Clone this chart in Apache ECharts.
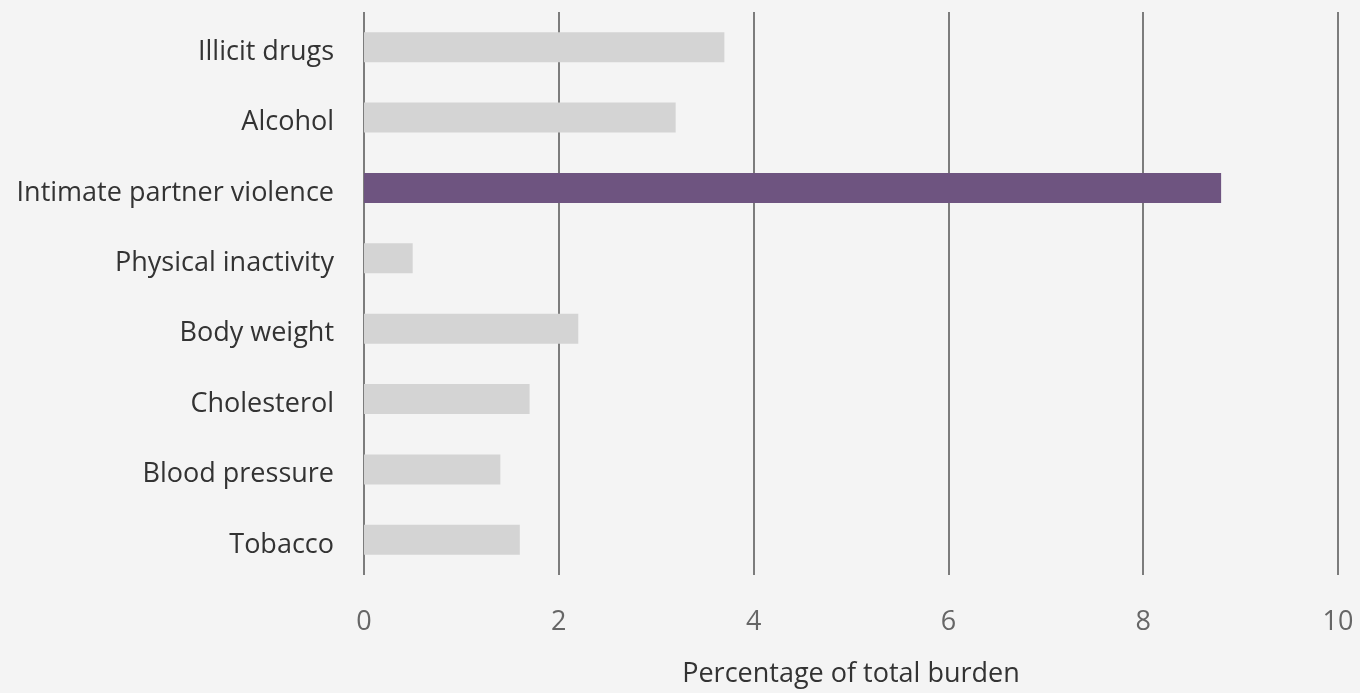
<!DOCTYPE html>
<html>
<head>
<meta charset="utf-8">
<script src="https://cdn.jsdelivr.net/npm/echarts@6/dist/echarts.min.js"></script>
<style>
  html, body { margin: 0; padding: 0; background: #f4f4f4; }
  #chart { width: 1360px; height: 693px; }
</style>
</head>
<body>
<div id="chart"></div>
<script>
// risk factors, top to bottom as in the picture
var categories = ['Illicit drugs', 'Alcohol', 'Intimate partner violence', 'Physical inactivity',
    'Body weight', 'Cholesterol', 'Blood pressure', 'Tobacco'];
var burden = [3.7, 3.2, 8.8, 0.5, 2.2, 1.7, 1.4, 1.6];
var highlight = 'Intimate partner violence';
var xTicks = [0, 2, 4, 6, 8, 10];

var chartDom = document.getElementById('chart');
var myChart = echarts.init(chartDom);
var option;

option = {
    backgroundColor: '#f4f4f4',
    animation: false,
    textStyle: { fontFamily: 'Open Sans' },
    grid: { left: 364, right: 22, top: 12, bottom: 116 },
    xAxis: {
        type: 'value',
        min: xTicks[0],
        max: xTicks[xTicks.length - 1],
        interval: 2,
        name: 'Percentage of total burden',
        nameLocation: 'middle',
        nameGap: 86,
        nameTextStyle: { fontSize: 27, color: '#333' },
        axisLine: { show: false },
        axisTick: { show: false },
        axisLabel: { fontSize: 27, color: '#666', margin: 34 },
        splitLine: { lineStyle: { color: '#555', width: 1.5 } }
    },
    yAxis: {
        type: 'category',
        inverse: true,
        data: categories,
        axisLine: { show: false },
        axisTick: { show: false },
        // labels sit a little below the bar centre in the original
        axisLabel: {
            margin: 30,
            formatter: function (v) { return '{lbl|' + v + '}'; },
            rich: {
                lbl: { fontSize: 27, color: '#333', fontFamily: 'Open Sans', padding: [10, 0, 0, 0] }
            }
        }
    },
    series: [
        {
            type: 'bar',
            barWidth: 30,
            data: burden.map(function (v, i) {
                return {
                    value: v,
                    itemStyle: { color: categories[i] === highlight ? '#6e5480' : '#d4d4d4' }
                };
            })
        }
    ]
};
option && myChart.setOption(option);
</script>
</body>
</html>
